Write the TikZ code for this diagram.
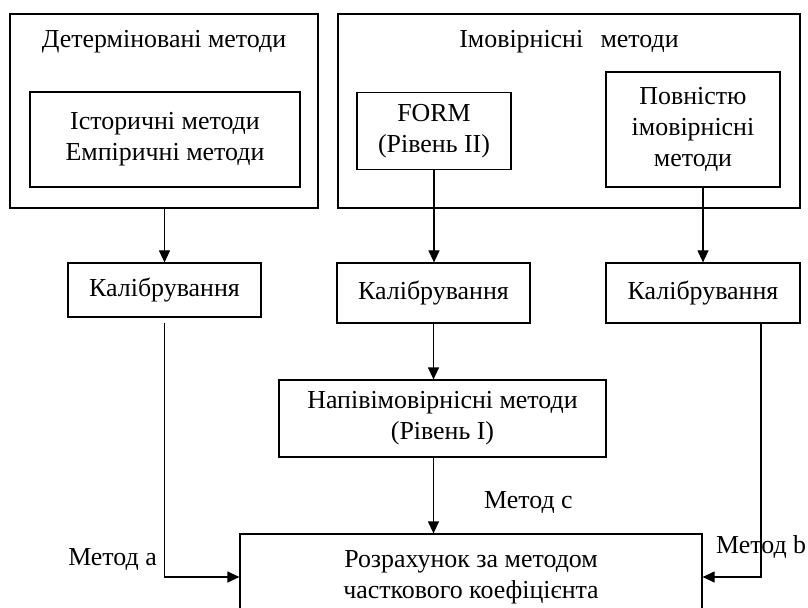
\documentclass[tikz,border=0pt]{standalone}
\usepackage{fontspec}
\setmainfont{Liberation Serif}
\usetikzlibrary{arrows.meta}
\begin{document}
\begin{tikzpicture}[x=1bp,y=-1bp,
  box/.style={draw, line width=1.2pt, align=center, inner sep=0pt},
  arr/.style={-{Triangle[length=12bp,width=11bp]}, line width=1.2pt},
  lbl/.style={inner sep=0pt, align=center},
  font=\fontsize{26}{31}\selectfont]
\useasboundingbox (0,0) rectangle (808,608);
\clip (0,0) rectangle (808,608);
% group boxes
\node[box, minimum width=308bp, minimum height=194bp] (det) at (164,111) {};
\node[lbl] (dett) at (164,42) {Детерміновані методи};
\node[box, minimum width=270bp, minimum height=95bp] (hist) at (165,139.5) {Історичні методи\\Емпіричні методи};
\node[box, minimum width=462bp, minimum height=194bp] (prob) at (569,111) {};
\node[lbl] (probt) at (569,42) {Імовірнісні\, \ методи};
\node[box, minimum width=154bp, minimum height=77bp] (form) at (434,131) {FORM\\(Рівень II)};
\node[box, minimum width=174bp, minimum height=115bp] (full) at (693,129.5) {Повністю\\імовірнісні\\методи};
% calibration
\node[box, minimum width=193bp, minimum height=54bp] (cal1) at (164.5,290) {Калібрування};
\node[box, minimum width=193bp, minimum height=60bp] (cal2) at (433.5,293) {Калібрування};
\node[box, minimum width=194bp, minimum height=60bp] (cal3) at (703,293) {Калібрування};
\node[box, minimum width=327bp, minimum height=77bp] (napiv) at (442.5,418.5) {Напівімовірнісні методи\\(Рівень І)};
\node[box, minimum width=462bp, minimum height=86bp] (calc) at (471,577) {Розрахунок за методом\\часткового коефіцієнта};
% labels
\node[lbl, anchor=east] (la) at (157,560) {Метод а};
\node[lbl, anchor=west] (lc) at (484,503) {Метод с};
\node[lbl, anchor=west] (lb) at (716,547) {Метод b};
\coordinate (c3) at (761,576);
% connectors
\draw[arr] (det.south -| cal1.north) -- (cal1.north);
\draw[arr] (form.south) -- (form.south |- cal2.north);
\draw[arr] (full.south -| cal3.north) -- (cal3.north);
\draw[arr] (cal2.south) -- (cal2.south |- napiv.north);
\draw[arr] (napiv.south -| cal2.south) -- (cal2.south |- calc.north);
\draw[arr, shorten <=5bp] (cal1.south) |- (calc.west);
\draw[arr] (cal3.south -| c3) |- (calc.east);
\end{tikzpicture}
\end{document}
